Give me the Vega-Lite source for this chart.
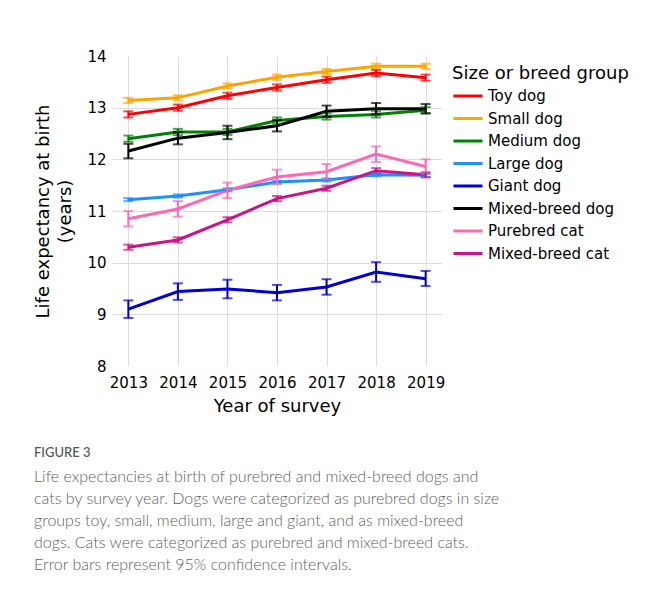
{
  "$schema": "https://vega.github.io/schema/vega-lite/v6.json",
  "width": 330,
  "height": 310,
  "autosize": {"type": "none"},
  "padding": {"left": 112, "top": 56, "right": 204, "bottom": 232},
  "background": "white",
  "title": {
    "text": "FIGURE 3",
    "subtitle": [
      "Life expectancies at birth of purebred and mixed-breed dogs and",
      "cats by survey year. Dogs were categorized as purebred dogs in size",
      "groups toy, small, medium, large and giant, and as mixed-breed",
      "dogs. Cats were categorized as purebred and mixed-breed cats.",
      "Error bars represent 95% confidence intervals."
    ],
    "orient": "bottom",
    "anchor": "start",
    "frame": "group",
    "dx": -78,
    "offset": 32,
    "font": "Lato",
    "fontSize": 13,
    "fontWeight": 500,
    "color": "#555555",
    "subtitleFont": "Lato",
    "subtitleFontSize": 16,
    "subtitleFontWeight": 300,
    "subtitleColor": "#606060",
    "subtitleLineHeight": 22,
    "subtitlePadding": 9
  },
  "config": {
    "view": {"stroke": null},
    "font": "DejaVu Sans",
    "axis": {
      "labelFont": "DejaVu Sans",
      "labelFontSize": 15,
      "labelColor": "black",
      "titleFont": "DejaVu Sans",
      "titleFontSize": 18,
      "titleFontWeight": "normal",
      "titleColor": "black",
      "ticks": false,
      "domain": false,
      "gridColor": "#dcdcdc",
      "gridWidth": 1
    },
    "axisY": {
      "values": [8, 9, 10, 11, 12, 13, 14],
      "labelPadding": 6,
      "titlePadding": 12,
      "titleLineHeight": 22,
      "gridOpacity": {"condition": {"test": "datum.value == 8 || datum.value == 14", "value": 0}, "value": 1}
    }
  },
  "data": {
    "values": [
      {"group": "Toy dog", "year": 2013, "value": 12.87, "lo": 12.81, "hi": 12.93},
      {"group": "Toy dog", "year": 2014, "value": 13.00, "lo": 12.94, "hi": 13.06},
      {"group": "Toy dog", "year": 2015, "value": 13.23, "lo": 13.17, "hi": 13.29},
      {"group": "Toy dog", "year": 2016, "value": 13.39, "lo": 13.33, "hi": 13.45},
      {"group": "Toy dog", "year": 2017, "value": 13.54, "lo": 13.48, "hi": 13.60},
      {"group": "Toy dog", "year": 2018, "value": 13.67, "lo": 13.61, "hi": 13.73},
      {"group": "Toy dog", "year": 2019, "value": 13.58, "lo": 13.52, "hi": 13.64},
      {"group": "Small dog", "year": 2013, "value": 13.14, "lo": 13.09, "hi": 13.19},
      {"group": "Small dog", "year": 2014, "value": 13.19, "lo": 13.14, "hi": 13.24},
      {"group": "Small dog", "year": 2015, "value": 13.42, "lo": 13.37, "hi": 13.47},
      {"group": "Small dog", "year": 2016, "value": 13.59, "lo": 13.54, "hi": 13.64},
      {"group": "Small dog", "year": 2017, "value": 13.70, "lo": 13.65, "hi": 13.75},
      {"group": "Small dog", "year": 2018, "value": 13.80, "lo": 13.75, "hi": 13.85},
      {"group": "Small dog", "year": 2019, "value": 13.80, "lo": 13.75, "hi": 13.85},
      {"group": "Medium dog", "year": 2013, "value": 12.40, "lo": 12.34, "hi": 12.46},
      {"group": "Medium dog", "year": 2014, "value": 12.53, "lo": 12.47, "hi": 12.59},
      {"group": "Medium dog", "year": 2015, "value": 12.53, "lo": 12.47, "hi": 12.59},
      {"group": "Medium dog", "year": 2016, "value": 12.75, "lo": 12.69, "hi": 12.81},
      {"group": "Medium dog", "year": 2017, "value": 12.83, "lo": 12.77, "hi": 12.89},
      {"group": "Medium dog", "year": 2018, "value": 12.87, "lo": 12.81, "hi": 12.93},
      {"group": "Medium dog", "year": 2019, "value": 12.95, "lo": 12.89, "hi": 13.01},
      {"group": "Large dog", "year": 2013, "value": 11.22, "lo": 11.19, "hi": 11.25},
      {"group": "Large dog", "year": 2014, "value": 11.29, "lo": 11.26, "hi": 11.32},
      {"group": "Large dog", "year": 2015, "value": 11.41, "lo": 11.38, "hi": 11.44},
      {"group": "Large dog", "year": 2016, "value": 11.56, "lo": 11.53, "hi": 11.59},
      {"group": "Large dog", "year": 2017, "value": 11.60, "lo": 11.57, "hi": 11.63},
      {"group": "Large dog", "year": 2018, "value": 11.70, "lo": 11.67, "hi": 11.73},
      {"group": "Large dog", "year": 2019, "value": 11.69, "lo": 11.66, "hi": 11.72},
      {"group": "Giant dog", "year": 2013, "value": 9.10, "lo": 8.93, "hi": 9.27},
      {"group": "Giant dog", "year": 2014, "value": 9.44, "lo": 9.28, "hi": 9.60},
      {"group": "Giant dog", "year": 2015, "value": 9.49, "lo": 9.31, "hi": 9.67},
      {"group": "Giant dog", "year": 2016, "value": 9.42, "lo": 9.27, "hi": 9.57},
      {"group": "Giant dog", "year": 2017, "value": 9.53, "lo": 9.38, "hi": 9.68},
      {"group": "Giant dog", "year": 2018, "value": 9.82, "lo": 9.63, "hi": 10.01},
      {"group": "Giant dog", "year": 2019, "value": 9.69, "lo": 9.55, "hi": 9.84},
      {"group": "Mixed-breed dog", "year": 2013, "value": 12.16, "lo": 12.02, "hi": 12.30},
      {"group": "Mixed-breed dog", "year": 2014, "value": 12.41, "lo": 12.29, "hi": 12.53},
      {"group": "Mixed-breed dog", "year": 2015, "value": 12.52, "lo": 12.39, "hi": 12.65},
      {"group": "Mixed-breed dog", "year": 2016, "value": 12.65, "lo": 12.54, "hi": 12.76},
      {"group": "Mixed-breed dog", "year": 2017, "value": 12.93, "lo": 12.82, "hi": 13.04},
      {"group": "Mixed-breed dog", "year": 2018, "value": 12.98, "lo": 12.87, "hi": 13.09},
      {"group": "Mixed-breed dog", "year": 2019, "value": 12.98, "lo": 12.89, "hi": 13.07},
      {"group": "Purebred cat", "year": 2013, "value": 10.85, "lo": 10.70, "hi": 11.00},
      {"group": "Purebred cat", "year": 2014, "value": 11.04, "lo": 10.89, "hi": 11.19},
      {"group": "Purebred cat", "year": 2015, "value": 11.40, "lo": 11.25, "hi": 11.55},
      {"group": "Purebred cat", "year": 2016, "value": 11.66, "lo": 11.52, "hi": 11.80},
      {"group": "Purebred cat", "year": 2017, "value": 11.76, "lo": 11.61, "hi": 11.91},
      {"group": "Purebred cat", "year": 2018, "value": 12.10, "lo": 11.95, "hi": 12.25},
      {"group": "Purebred cat", "year": 2019, "value": 11.86, "lo": 11.72, "hi": 12.00},
      {"group": "Mixed-breed cat", "year": 2013, "value": 10.30, "lo": 10.25, "hi": 10.35},
      {"group": "Mixed-breed cat", "year": 2014, "value": 10.44, "lo": 10.39, "hi": 10.49},
      {"group": "Mixed-breed cat", "year": 2015, "value": 10.83, "lo": 10.78, "hi": 10.88},
      {"group": "Mixed-breed cat", "year": 2016, "value": 11.24, "lo": 11.19, "hi": 11.29},
      {"group": "Mixed-breed cat", "year": 2017, "value": 11.44, "lo": 11.39, "hi": 11.49},
      {"group": "Mixed-breed cat", "year": 2018, "value": 11.78, "lo": 11.73, "hi": 11.83},
      {"group": "Mixed-breed cat", "year": 2019, "value": 11.70, "lo": 11.65, "hi": 11.75}
    ]
  },
  "encoding": {
    "x": {
      "field": "year",
      "type": "quantitative",
      "scale": {"domain": [2012.67, 2019.33], "nice": false, "zero": false},
      "axis": {
        "title": "Year of survey",
        "values": [2013, 2014, 2015, 2016, 2017, 2018, 2019],
        "format": "d",
        "labelPadding": 9,
        "titlePadding": 7,
        "labelFlush": false
      }
    },
    "color": {
      "field": "group",
      "type": "nominal",
      "scale": {
        "domain": ["Toy dog", "Small dog", "Medium dog", "Large dog", "Giant dog", "Mixed-breed dog", "Purebred cat", "Mixed-breed cat"],
        "range": ["#ff0000", "#ffa500", "#008000", "#1e90ff", "#0000cd", "#000000", "#ff69b4", "#c71585"]
      },
      "legend": {
        "title": "Size or breed group",
        "orient": "none",
        "legendX": 340,
        "legendY": 9,
        "padding": 0,
        "titleFont": "DejaVu Sans",
        "titleFontSize": 18,
        "titleFontWeight": "normal",
        "titleColor": "black",
        "titlePadding": 5,
        "labelFont": "DejaVu Sans",
        "labelFontSize": 15,
        "labelColor": "black",
        "labelOffset": 4,
        "symbolType": "stroke",
        "symbolStrokeWidth": 3,
        "symbolSize": 841,
        "symbolOpacity": 1,
        "clipHeight": 16,
        "rowPadding": 6.5
      }
    }
  },
  "layer": [
    {
      "mark": {"type": "line", "strokeWidth": 3},
      "encoding": {
        "y": {
          "field": "value",
          "type": "quantitative",
          "title": ["Life expectancy at birth", "(years)"],
          "scale": {"domain": [8, 14], "nice": false, "zero": false}
        }
      }
    },
    {
      "mark": {"type": "errorbar", "ticks": {"size": 10}, "thickness": 2},
      "encoding": {
        "y": {"field": "lo", "type": "quantitative", "title": ["Life expectancy at birth", "(years)"]},
        "y2": {"field": "hi"}
      }
    }
  ]
}
